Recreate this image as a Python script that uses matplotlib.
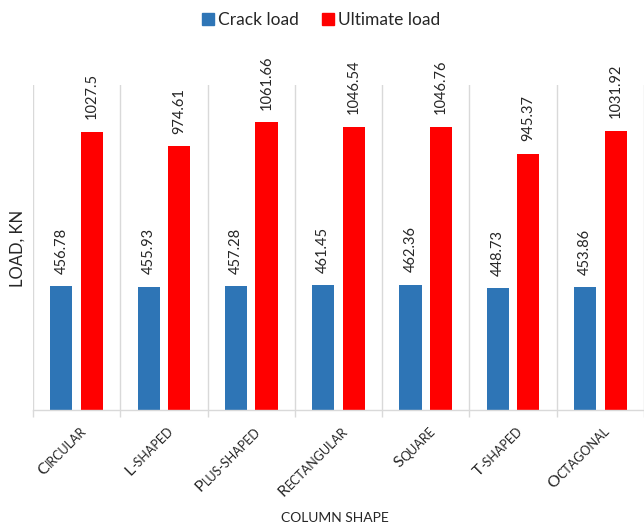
import numpy as np
import matplotlib
matplotlib.use("Agg")
import matplotlib.pyplot as plt
from matplotlib.patches import Patch
from matplotlib.transforms import offset_copy
from matplotlib.font_manager import FontProperties

plt.rcParams['font.family'] = ['Lato', 'DejaVu Sans']

categories = ["Circular", "L-shaped", "Plus-shaped", "Rectangular", "Square", "T-shaped", "Octagonal"]
crack_load = [456.78, 455.93, 457.28, 461.45, 462.36, 448.73, 453.86]
ultimate_load = [1027.5, 974.61, 1061.66, 1046.54, 1046.76, 945.37, 1031.92]
crack_labels = ["456.78", "455.93", "457.28", "461.45", "462.36", "448.73", "453.86"]
ultimate_labels = ["1027.5", "974.61", "1061.66", "1046.54", "1046.76", "945.37", "1031.92"]

BLUE = "#2e75b6"
RED = "#ff0000"
GRID = "#d9d9d9"
TEXT = "#262626"

DPI = 100
fig = plt.figure(figsize=(6.44, 5.30), dpi=DPI)
ax = fig.add_axes([33 / 644, 1 - 410 / 530, 1 - 33 / 644, (410 - 85) / 530])

x = np.arange(len(categories))
w = 0.255
off = 0.175
b1 = ax.bar(x - off, crack_load, w, color=BLUE)
b2 = ax.bar(x + off, ultimate_load, w, color=RED)

for bars, labs in ((b1, crack_labels), (b2, ultimate_labels)):
    for rect, lab in zip(bars, labs):
        ax.annotate(lab, (rect.get_x() + rect.get_width() / 2, rect.get_height()),
                    xytext=(0, 9), textcoords="offset points", rotation=90,
                    ha="center", va="bottom", fontsize=10.5, color=TEXT)

ax.set_xlim(-0.5, len(categories) - 0.5)
ax.set_ylim(0, 1200)
ax.set_yticks([])
for s in ("top", "right", "left"):
    ax.spines[s].set_visible(False)
ax.spines["bottom"].set_color(GRID)
ax.spines["bottom"].set_linewidth(1.0)

ax.set_xticks([])
ax.set_xticks(np.arange(-0.5, len(categories)), minor=True)
ax.tick_params(axis="x", which="minor", length=5, color=GRID, width=1.0)
ax.grid(True, which="minor", axis="x", color=GRID, linewidth=1.0)
ax.set_axisbelow(True)

# small-caps category labels: leading capital at full size, remainder smaller
renderer = fig.canvas.get_renderer()
big, small = 11.5, 9.0
ang = np.deg2rad(45)
base = ax.get_xaxis_transform()
ox, oy = 10, -22
for i, name in enumerate(categories):
    first, rest = name[0], name[1:].upper()
    anchor = offset_copy(base, fig=fig, x=ox, y=oy, units="dots")
    ax.text(i, 0, rest, transform=anchor, rotation=45, rotation_mode="anchor",
            ha="right", va="baseline", fontsize=small, color=TEXT)
    wpx, _, _ = renderer.get_text_width_height_descent(
        rest, FontProperties(family=['Lato'], size=small), ismath=False)
    tr = offset_copy(base, fig=fig, x=ox - wpx * np.cos(ang), y=oy - wpx * np.sin(ang), units="dots")
    ax.text(i, 0, first, transform=tr, rotation=45, rotation_mode="anchor",
            ha="right", va="baseline", fontsize=big, color=TEXT)

fig.text(18 / 644, 1 - 248 / 530, "LOAD, KN", rotation=90, ha="center", va="center",
         fontsize=12, color=TEXT)
fig.text(335 / 644, 1 - 518 / 530, "COLUMN SHAPE", ha="center", va="center",
         fontsize=10, color=TEXT)

handles = [Patch(color=BLUE, label="Crack load"), Patch(color=RED, label="Ultimate load")]
fig.legend(handles=handles, loc="center", bbox_to_anchor=(321 / 644, 1 - 20 / 530), ncol=2,
           frameon=False, fontsize=12.5, handlelength=0.7, handleheight=0.7,
           handletextpad=0.25, columnspacing=1.3, labelcolor=TEXT)

fig.savefig("out.png", dpi=DPI)
